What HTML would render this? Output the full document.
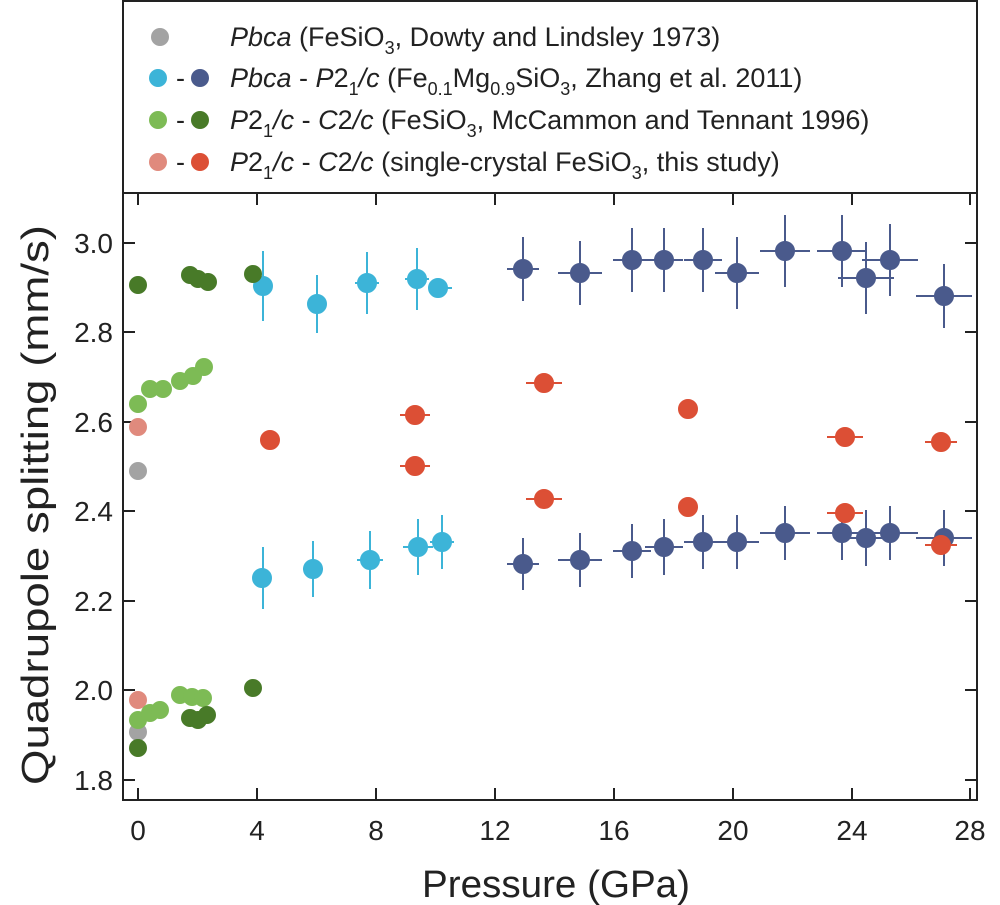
<!DOCTYPE html>
<html><head><meta charset="utf-8"><style>
body{margin:0;background:#fff}
svg{display:block;font-family:"Liberation Sans",sans-serif}
</style></head><body>
<svg width="1000" height="905" viewBox="0 0 1000 905" xmlns="http://www.w3.org/2000/svg">
<rect x="123" y="1" width="854" height="192" fill="none" stroke="#222" stroke-width="2"/>
<rect x="123" y="193" width="854" height="607" fill="none" stroke="#222" stroke-width="2"/>
<g fill="#222" font-size="27">
<circle cx="160" cy="37" r="9" fill="#a3a3a3"/>
<circle cx="158" cy="78" r="9" fill="#3cb4d8"/><text x="176" y="87">-</text><circle cx="200" cy="78" r="9" fill="#4a5a8c"/>
<circle cx="158" cy="120" r="9" fill="#7dbb55"/><text x="176" y="129">-</text><circle cx="200" cy="120" r="9" fill="#487a28"/>
<circle cx="158" cy="162" r="9" fill="#e08a7d"/><text x="176" y="171">-</text><circle cx="200" cy="162" r="9" fill="#dc4f35"/>
<text x="230" y="46"><tspan font-style="italic">Pbca</tspan>  (FeSiO<tspan font-size="18" dy="8">3</tspan><tspan dy="-8">, Dowty and Lindsley 1973)</tspan></text>
<text x="230" y="87"><tspan font-style="italic">Pbca</tspan> - <tspan font-style="italic">P</tspan>2<tspan font-size="18" dy="8">1</tspan><tspan dy="-8" font-style="italic">/c</tspan>  (Fe<tspan font-size="18" dy="8">0.1</tspan><tspan dy="-8">Mg</tspan><tspan font-size="18" dy="8">0.9</tspan><tspan dy="-8">SiO</tspan><tspan font-size="18" dy="8">3</tspan><tspan dy="-8">, Zhang et al. 2011)</tspan></text>
<text x="230" y="129"><tspan font-style="italic">P</tspan>2<tspan font-size="18" dy="8">1</tspan><tspan dy="-8" font-style="italic">/c</tspan> - <tspan font-style="italic">C</tspan>2<tspan font-style="italic">/c</tspan>  (FeSiO<tspan font-size="18" dy="8">3</tspan><tspan dy="-8">, McCammon and Tennant 1996)</tspan></text>
<text x="230" y="171"><tspan font-style="italic">P</tspan>2<tspan font-size="18" dy="8">1</tspan><tspan dy="-8" font-style="italic">/c</tspan> - <tspan font-style="italic">C</tspan>2<tspan font-style="italic">/c</tspan>  (single-crystal FeSiO<tspan font-size="18" dy="8">3</tspan><tspan dy="-8">, this study)</tspan></text>
</g>
<g stroke="#222" stroke-width="2">
<path d="M138 800v-12M257 800v-12M376 800v-12M495 800v-12M614 800v-12M733 800v-12M852 800v-12M970 800v-12"/>
<path d="M138 193v12M257 193v12M376 193v12M495 193v12M614 193v12M733 193v12M852 193v12M970 193v12"/>
<path d="M123 243h12M123 332h12M123 422h12M123 511h12M123 601h12M123 690h12M123 780h12"/>
<path d="M977 243h-12M977 332h-12M977 422h-12M977 511h-12M977 601h-12M977 690h-12M977 780h-12"/>
</g>
<g font-size="28" fill="#222" text-anchor="end">
<text x="113" y="253">3.0</text><text x="113" y="342">2.8</text><text x="113" y="432">2.6</text><text x="113" y="521">2.4</text><text x="113" y="611">2.2</text><text x="113" y="700">2.0</text><text x="113" y="790">1.8</text>
</g>
<g font-size="28" fill="#222" text-anchor="middle">
<text x="138" y="840">0</text><text x="257" y="840">4</text><text x="376" y="840">8</text><text x="495" y="840">12</text><text x="614" y="840">16</text><text x="733" y="840">20</text><text x="852" y="840">24</text><text x="970" y="840">28</text>
</g>
<text x="422" y="897" font-size="38" fill="#222" textLength="268" lengthAdjust="spacingAndGlyphs">Pressure (GPa)</text>
<text transform="translate(48,785) rotate(-90)" font-size="38" fill="#222" textLength="560" lengthAdjust="spacingAndGlyphs">Quadrupole splitting (mm/s)</text>
<!-- cyan -->
<g stroke="#3cb4d8" stroke-width="2" fill="#3cb4d8">
<path d="M263 251v70M317 275v58M367 252v62M355 283h24M417 248v62M405 279h24M438 288h14M263 547v62M313 541v56M303 569h20M370 531v58M357 560h26M418 519v56M403 547h30M442 515v54M430 542h24"/>
<circle cx="263" cy="286" r="9"/><circle cx="317" cy="304" r="9"/><circle cx="367" cy="283" r="9"/><circle cx="417" cy="279" r="9"/><circle cx="438" cy="288" r="9"/>
<circle cx="262" cy="578" r="9"/><circle cx="313" cy="569" r="9"/><circle cx="370" cy="560" r="9"/><circle cx="418" cy="547" r="9"/><circle cx="442" cy="542" r="9"/>
</g>
<!-- navy -->
<g stroke="#4a5a8c" stroke-width="2" fill="#4a5a8c">
<path d="M523 237v64M507 269h32M580 241v64M558 273h44M632 228v64M613 260h38M664 228v64M645 260h38M703 228v64M684 260h38M737 237v72M715 273h44M785 215v72M760 251h50M842 215v72M817 251h50M866 242v72M838 278h56M890 224v72M862 260h56M944 264v64M916 296h56"/>
<path d="M523 538v52M507 564h32M580 533v54M558 560h44M632 524v54M613 551h38M664 519v56M645 547h38M703 515v54M684 542h38M737 515v54M715 542h44M785 506v54M760 533h50M842 506v54M817 533h50M866 510v56M838 538h56M890 506v54M862 533h56M944 510v56M916 538h56"/>
<circle cx="523" cy="269" r="9"/><circle cx="580" cy="273" r="9"/><circle cx="632" cy="260" r="9"/><circle cx="664" cy="260" r="9"/><circle cx="703" cy="260" r="9"/><circle cx="737" cy="273" r="9"/><circle cx="785" cy="251" r="9"/><circle cx="842" cy="251" r="9"/><circle cx="866" cy="278" r="9"/><circle cx="890" cy="260" r="9"/><circle cx="944" cy="296" r="9"/>
<circle cx="523" cy="564" r="9"/><circle cx="580" cy="560" r="9"/><circle cx="632" cy="551" r="9"/><circle cx="664" cy="547" r="9"/><circle cx="703" cy="542" r="9"/><circle cx="737" cy="542" r="9"/><circle cx="785" cy="533" r="9"/><circle cx="842" cy="533" r="9"/><circle cx="866" cy="538" r="9"/><circle cx="890" cy="533" r="9"/><circle cx="944" cy="538" r="9"/>
</g>
<!-- red -->
<g stroke="#dc4f35" stroke-width="2" fill="#dc4f35">
<path d="M400 415h30M400 466h30M526 383h36M526 499h36M827 437h36M827 513h36M925 442h32M925 545h32"/>
<circle cx="270" cy="440" r="9"/><circle cx="415" cy="415" r="9"/><circle cx="415" cy="466" r="9"/><circle cx="544" cy="383" r="9"/><circle cx="544" cy="499" r="9"/><circle cx="688" cy="409" r="9"/><circle cx="688" cy="507" r="9"/><circle cx="845" cy="437" r="9"/><circle cx="845" cy="513" r="9"/><circle cx="941" cy="442" r="9"/><circle cx="941" cy="545" r="9"/>
</g>
<!-- grey / pink / greens -->
<g>
<circle cx="138" cy="471" r="9" fill="#a3a3a3"/><circle cx="138" cy="732" r="9" fill="#a3a3a3"/>
<circle cx="138" cy="427" r="9" fill="#e08a7d"/><circle cx="138" cy="700" r="9" fill="#e08a7d"/>
<g fill="#7dbb55">
<circle cx="138" cy="404" r="9"/><circle cx="150" cy="389" r="9"/><circle cx="163" cy="389" r="9"/><circle cx="180" cy="381" r="9"/><circle cx="193" cy="376" r="9"/><circle cx="204" cy="367" r="9"/>
<circle cx="138" cy="720" r="9"/><circle cx="150" cy="713" r="9"/><circle cx="160" cy="710" r="9"/><circle cx="180" cy="695" r="9"/><circle cx="192" cy="697" r="9"/><circle cx="203" cy="698" r="9"/>
</g>
<g fill="#487a28">
<circle cx="138" cy="285" r="9"/><circle cx="190" cy="275" r="9"/><circle cx="198" cy="279" r="9"/><circle cx="208" cy="282" r="9"/><circle cx="253" cy="274" r="9"/>
<circle cx="138" cy="748" r="9"/><circle cx="190" cy="718" r="9"/><circle cx="198" cy="720" r="9"/><circle cx="207" cy="715" r="9"/><circle cx="253" cy="688" r="9"/>
</g>
</g>
</svg>
</body></html>
